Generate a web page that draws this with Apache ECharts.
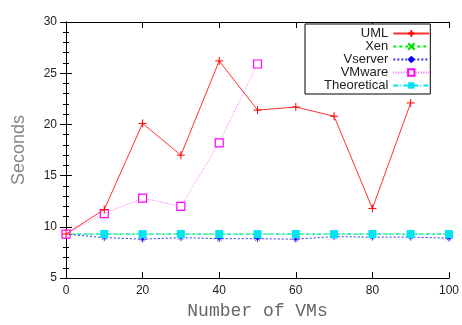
<!DOCTYPE html>
<html>
<head>
<meta charset="utf-8">
<script src="https://cdn.jsdelivr.net/npm/echarts@6/dist/echarts.min.js"></script>
<style>
  html, body { margin: 0; padding: 0; background: #fff; }
  #chart { width: 462px; height: 325px; }
</style>
</head>
<body>
<div id="chart"></div>
<script>
// 数据
const vms = [0, 10, 20, 30, 40, 50, 60, 70, 80, 90, 100];
const umlData = [9.3, 11.7, 20.1, 17.0, 26.2, 21.4, 21.7, 20.8, 11.8, 22.1];
const xenData = [9.3, 9.3, 9.3, 9.3, 9.3, 9.3, 9.3, 9.3, 9.3, 9.3, 9.3];
const vserverData = [9.3, 8.95, 8.8, 8.95, 8.85, 8.85, 8.8, 9.05, 9.0, 9.0, 8.9];
const vmwareData = [9.3, 11.3, 12.8, 12.0, 18.2, 25.9];
const theoreticalData = [9.3, 9.3, 9.3, 9.3, 9.3, 9.3, 9.3, 9.3, 9.3, 9.3, 9.3];

window.addEventListener('DOMContentLoaded', function() {
    initChart();
});

function pairs(values) {
    return values.map((v, i) => [vms[i], v]);
}

function initChart() {
    const myChart = echarts.init(document.getElementById('chart'));

    const plusIcon = 'path://M0,5L10,5M5,0L5,10';
    const crossIcon = 'path://M0,0L10,10M10,0L0,10';
    const starIcon = 'path://M0,5L10,5M5,0L5,10M2,2L8,8M8,2L2,8';

    const tickFont = { color: '#222', fontSize: 12, fontFamily: 'Liberation Sans, Arial, sans-serif' };

    const option = {
        animation: false,
        grid: { left: 66, right: 10, top: 22, bottom: 38, show: false },
        legend: {
            left: 305,
            top: 24,
            orient: 'vertical',
            align: 'right',
            itemWidth: 36,
            itemHeight: 8,
            itemGap: 0,
            padding: [3, 0, 2, 19],
            borderColor: '#000',
            borderWidth: 1,
            borderRadius: 0,
            backgroundColor: '#fff',
            textStyle: { color: '#222', fontSize: 13, lineHeight: 12.5, fontFamily: 'Liberation Sans, Arial, sans-serif' },
            data: ['UML', 'Xen', 'Vserver', 'VMware', 'Theoretical']
        },
        xAxis: [
            {
                type: 'value', min: 0, max: 100, interval: 20,
                name: 'Number of VMs', nameLocation: 'middle', nameGap: 22,
                nameTextStyle: { color: '#666', fontSize: 18, fontFamily: 'Liberation Mono, DejaVu Sans Mono, monospace' },
                axisLine: { show: true, lineStyle: { color: '#000', width: 1 } },
                axisTick: { show: true, inside: true, length: 6, lineStyle: { color: '#000' } },
                axisLabel: Object.assign({ margin: 7 }, tickFont),
                splitLine: { show: false }
            },
            {
                type: 'value', min: 0, max: 100, interval: 20, position: 'top',
                axisLine: { show: true, lineStyle: { color: '#000', width: 1 } },
                axisTick: { show: true, inside: true, length: 6, lineStyle: { color: '#000' } },
                axisLabel: { show: false },
                splitLine: { show: false }
            }
        ],
        yAxis: [
            {
                type: 'value', min: 5, max: 30, interval: 5,
                name: 'Seconds', nameLocation: 'middle', nameGap: 38,
                nameTextStyle: { color: '#888', fontSize: 18, fontFamily: 'Liberation Sans, Arial, sans-serif' },
                axisLine: { show: true, lineStyle: { color: '#000', width: 1 } },
                axisTick: { show: true, inside: true, length: 6, lineStyle: { color: '#000' } },
                minorTick: { show: true, splitNumber: 5, length: 3, lineStyle: { color: '#000' } },
                axisLabel: Object.assign({ margin: 9 }, tickFont),
                splitLine: { show: false }
            },
            {
                type: 'value', min: 5, max: 30, interval: 5, position: 'right',
                axisLine: { show: true, lineStyle: { color: '#000', width: 1 } },
                axisTick: { show: true, inside: true, length: 6, lineStyle: { color: '#000' } },
                minorTick: { show: true, splitNumber: 5, length: 3, lineStyle: { color: '#000' } },
                axisLabel: { show: false },
                splitLine: { show: false }
            }
        ],
        series: [
            {
                name: 'UML', type: 'line', data: pairs(umlData),
                symbol: plusIcon, symbolSize: 8,
                itemStyle: { color: '#ff0000', borderColor: '#ff0000', borderWidth: 1 },
                lineStyle: { color: '#ff3030', width: 1 }, z: 5
            },
            {
                name: 'Xen', type: 'line', data: pairs(xenData),
                symbol: crossIcon, symbolSize: 6,
                itemStyle: { color: '#00dd00', borderColor: '#00dd00', borderWidth: 1 },
                lineStyle: { color: '#00ee00', width: 1, type: [3, 3] }, z: 2
            },
            {
                name: 'Vserver', type: 'line', data: pairs(vserverData),
                symbol: starIcon, symbolSize: 7,
                itemStyle: { color: '#0000ff', borderColor: '#0000ff', borderWidth: 0.8 },
                lineStyle: { color: '#3030ff', width: 1, type: [2, 2] }, z: 3
            },
            {
                name: 'VMware', type: 'line', data: pairs(vmwareData),
                symbol: 'rect', symbolSize: 8,
                itemStyle: { color: '#fff', borderColor: '#ff00ff', borderWidth: 1.2 },
                lineStyle: { color: '#ff66ff', width: 1, type: [1, 1.5] }, z: 4
            },
            {
                name: 'Theoretical', type: 'line', data: pairs(theoreticalData),
                symbol: 'rect', symbolSize: 8,
                itemStyle: { color: '#00e5ee', borderColor: '#00e5ee', borderWidth: 0 },
                lineStyle: { color: '#00e5ee', width: 1, type: [5, 2, 1, 2] }, z: 3
            }
        ]
    };

    myChart.setOption(option);
    window.addEventListener('resize', () => myChart.resize());
}
</script>
</body>
</html>
